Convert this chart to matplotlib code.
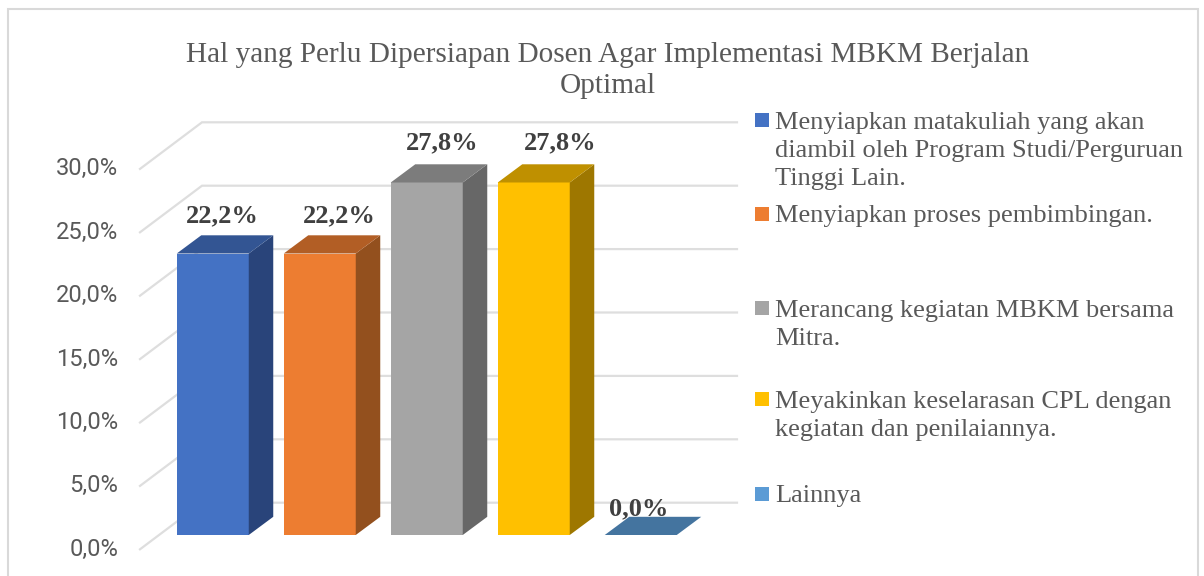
import matplotlib
matplotlib.use("Agg")
import matplotlib.pyplot as plt
from matplotlib.patches import Polygon, Rectangle

W, H = 1204, 576
title = "Hal yang Perlu Dipersiapan Dosen Agar Implementasi MBKM Berjalan\nOptimal"
categories = [
    "Menyiapkan matakuliah yang akan\ndiambil oleh Program Studi/Perguruan\nTinggi Lain.",
    "Menyiapkan proses pembimbingan.",
    "Merancang kegiatan MBKM bersama\nMitra.",
    "Meyakinkan keselarasan CPL dengan\nkegiatan dan penilaiannya.",
    "Lainnya",
]
values = [22.2, 22.2, 27.8, 27.8, 0.0]
value_labels = ["22,2%", "22,2%", "27,8%", "27,8%", "0,0%"]
ticks = [0, 5, 10, 15, 20, 25, 30]
tick_labels = ["0,0%", "5,0%", "10,0%", "15,0%", "20,0%", "25,0%", "30,0%"]
front = ["#4472C4", "#ED7D31", "#A5A5A5", "#FFC000", "#5B9BD5"]
top = ["#335593", "#B25E25", "#7C7C7C", "#BF9000", "#44749F"]
side = ["#29447A", "#93501E", "#676767", "#9E7700", "#39618A"]

# Pixel layout of the oblique projection
PX_X0, PX_DX = 212.75, 107.0     # first bar centre, bar spacing
PX_Y0, PX_DY = 535.0, 12.68      # bar floor, pixels per percent
BAR_W = 72 / PX_DX
DEPTH_X, DEPTH_Y = 24.5 / PX_DX, 18.2 / PX_DY

# Label placement relative to the bar top, in pixels
LABEL_DX = [10, 20, 15.5, 26, -2]
LABEL_DY = [37.5, 37.5, 40, 40, 26.5]

fig = plt.figure(figsize=(W / 100, H / 100), dpi=100, facecolor="white")
ax = fig.add_axes([0, 0, 1, 1])
ax.set_xlim(-PX_X0 / PX_DX, (W - PX_X0) / PX_DX)
ax.set_ylim((PX_Y0 - H) / PX_DY, PX_Y0 / PX_DY)
ax.axis("off")


def fx(px):
    return (px - PX_X0) / PX_DX


def fy(py):
    return (PX_Y0 - py) / PX_DY


# Chart frame
ax.add_patch(Rectangle((fx(8.5), fy(585)), fx(1197.5) - fx(8.5), fy(9.5) - fy(585),
                       fill=False, ec="#D9D9D9", lw=1.5, zorder=1))

# Walls and gridlines
wall0 = fy(502.7)
front0 = fy(549.3)
for t, lab in zip(ticks, tick_labels):
    ax.plot([fx(140), fx(202), fx(737)],
            [front0 + t, wall0 + t, wall0 + t],
            color="#DEDEDE", lw=1.6, zorder=2, solid_joinstyle="miter")
    ax.text(fx(118.5), front0 + t, lab, ha="right", va="center",
            fontsize=17, family="Roboto", color="#595959", zorder=6)

# 3D bars
for i, (v, lab) in enumerate(zip(values, value_labels)):
    l, r = i - BAR_W / 2, i + BAR_W / 2
    if v > 0:
        ax.bar(i, v, width=BAR_W, color=front[i], zorder=4, lw=0)
        ax.add_patch(Polygon([(r, 0), (r + DEPTH_X, DEPTH_Y), (r + DEPTH_X, v + DEPTH_Y), (r, v)],
                             closed=True, fc=side[i], ec="none", zorder=4))
    ax.add_patch(Polygon([(l, v), (r, v), (r + DEPTH_X, v + DEPTH_Y), (l + DEPTH_X, v + DEPTH_Y)],
                         closed=True, fc=top[i], ec="none", zorder=4))
    ax.text(i + LABEL_DX[i] / PX_DX, v + LABEL_DY[i] / PX_DY, lab, ha="center", va="center",
            fontsize=19, family="Liberation Serif", weight="bold", color="#404040", zorder=7)

# Title
ax.text(fx(608), fy(70.5), title, ha="center", va="center", fontsize=21.1, linespacing=1.23,
        family="Liberation Serif", color="#595959", zorder=7)

# Legend
legend_y = [151, 216, 325, 416, 496]
marker_y = [120, 214, 308, 399, 493.5]
for c, lab, ty, my in zip(front, categories, legend_y, marker_y):
    ax.add_patch(Rectangle((fx(755), fy(my + 7)), 14 / PX_DX, 14 / PX_DY,
                           fc=c, ec="none", zorder=6))
    ax.text(fx(775), fy(ty), lab, ha="left", va="center", fontsize=18.96, linespacing=1.365,
            family="Liberation Serif", color="#595959", zorder=7)

fig.savefig("out.png", dpi=100, facecolor="white")
